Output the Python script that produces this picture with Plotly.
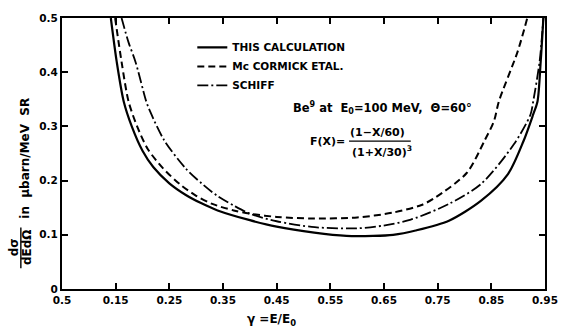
import plotly.graph_objects as go

# Data (y = dσ/dEdΩ in μbarn/MeV SR, x = γ = E/E0)
calc_x = [0.141, 0.152, 0.165, 0.180, 0.200, 0.220, 0.250, 0.280, 0.310, 0.340, 0.400, 0.450, 0.520, 0.580, 0.630, 0.667, 0.709, 0.771, 0.831, 0.881, 0.910, 0.928, 0.936, 0.942, 0.947]
calc_y = [0.500, 0.419, 0.346, 0.300, 0.255, 0.225, 0.195, 0.174, 0.158, 0.145, 0.127, 0.115, 0.104, 0.098, 0.098, 0.100, 0.108, 0.126, 0.163, 0.212, 0.273, 0.322, 0.346, 0.420, 0.500]

mcc_x = [0.149, 0.161, 0.174, 0.190, 0.210, 0.238, 0.270, 0.300, 0.330, 0.370, 0.400, 0.450, 0.520, 0.600, 0.667, 0.720, 0.746, 0.804, 0.837, 0.855, 0.864, 0.899, 0.917]
mcc_y = [0.500, 0.419, 0.346, 0.300, 0.258, 0.223, 0.193, 0.172, 0.157, 0.145, 0.139, 0.133, 0.130, 0.132, 0.141, 0.155, 0.169, 0.214, 0.273, 0.310, 0.346, 0.438, 0.500]

schiff_x = [0.161, 0.174, 0.187, 0.207, 0.214, 0.240, 0.280, 0.310, 0.339, 0.370, 0.400, 0.450, 0.521, 0.600, 0.649, 0.700, 0.771, 0.831, 0.892, 0.923, 0.928, 0.940, 0.947]
schiff_y = [0.500, 0.455, 0.419, 0.346, 0.328, 0.275, 0.223, 0.195, 0.172, 0.154, 0.139, 0.125, 0.114, 0.112, 0.117, 0.128, 0.157, 0.194, 0.267, 0.322, 0.346, 0.420, 0.500]

x_tickvals = [0.05, 0.15, 0.25, 0.35, 0.45, 0.55, 0.65, 0.75, 0.85, 0.95]
x_ticktext = ["0.5", "0.15", "0.25", "0.35", "0.45", "0.55", "0.65", "0.75", "0.85", "0.95"]
y_tickvals = [0, 0.1, 0.2, 0.3, 0.4, 0.5]
y_ticktext = ["0", "0.1", "0.2", "0.3", "0.4", "0.5"]

FONT = "DejaVu Sans"

fig = go.Figure()
fig.add_trace(go.Scatter(x=calc_x, y=calc_y, mode="lines", name="THIS CALCULATION",
                         line=dict(color="black", width=2.2, shape="spline", smoothing=0.8)))
fig.add_trace(go.Scatter(x=mcc_x, y=mcc_y, mode="lines", name="Mc CORMICK ETAL.",
                         line=dict(color="black", width=2, dash="7px,4px", shape="spline", smoothing=0.8)))
fig.add_trace(go.Scatter(x=schiff_x, y=schiff_y, mode="lines", name="SCHIFF",
                         line=dict(color="black", width=1.8, dash="11px,3px,2px,3px", shape="spline", smoothing=0.8)))

W, H = 570, 328
ml, mr, mt, mb = 62, 15, 16, 39
pw, ph = W - ml - mr, H - mt - mb

def px(x):
    return (x - ml) / pw

def py(y):
    return (H - mb - y) / ph

def f(size):
    return dict(size=size, family=FONT, color="black", weight="bold")

annotations = [
    dict(text="Be<sup>9</sup> at  E<sub>0</sub>=100 MeV,  Θ=60°", x=px(296), y=py(107), xanchor="left", yanchor="middle", font=f(11.5)),
    dict(text="F(X)=", x=px(353), y=py(140), xanchor="right", yanchor="middle", font=f(11)),
    dict(text="(1−X/60)", x=px(384), y=py(131), xanchor="center", yanchor="middle", font=f(11)),
    dict(text="(1+X/30)<sup>3</sup>", x=px(389), y=py(150), xanchor="center", yanchor="middle", font=f(11)),
    dict(text="γ =E/E<sub>0</sub>", x=px(276), y=py(320), xanchor="center", yanchor="middle", font=f(12)),
    dict(text="in  μbarn/MeV  SR", x=px(24), y=py(157), xanchor="center", yanchor="middle", textangle=-90, font=f(12)),
    dict(text="dσ", x=px(13), y=py(247), xanchor="center", yanchor="middle", textangle=-90, font=f(12)),
    dict(text="dEdΩ", x=px(27), y=py(247), xanchor="center", yanchor="middle", textangle=-90, font=f(12)),
]
for a in annotations:
    a.update(xref="paper", yref="paper", showarrow=False)

shapes = [
    dict(type="line", xref="paper", yref="paper", x0=px(355), x1=px(418), y0=py(140), y1=py(140), line=dict(color="black", width=1.4)),
    dict(type="line", xref="paper", yref="paper", x0=px(20), x1=px(20), y0=py(227), y1=py(268), line=dict(color="black", width=1.4)),
]

axis_common = dict(showline=True, linecolor="black", linewidth=2, mirror="ticks", ticks="inside",
                   ticklen=6, tickwidth=1.5, tickcolor="black", showgrid=False, zeroline=False,
                   tickfont=f(10.5))

fig.update_layout(
    width=W, height=H,
    margin=dict(l=ml, r=mr, t=mt, b=mb),
    paper_bgcolor="white", plot_bgcolor="white",
    xaxis=dict(range=[0.05, 0.95], tickmode="array", tickvals=x_tickvals, ticktext=x_ticktext, **axis_common),
    yaxis=dict(range=[0, 0.5], tickmode="array", tickvals=y_tickvals, ticktext=y_ticktext, **axis_common),
    legend=dict(x=px(195), y=py(31), xanchor="left", yanchor="top", bgcolor="rgba(0,0,0,0)",
                font=f(10.5), tracegroupgap=0, itemwidth=30),
    annotations=annotations, shapes=shapes, showlegend=True,
)

fig.write_html("out.html")
